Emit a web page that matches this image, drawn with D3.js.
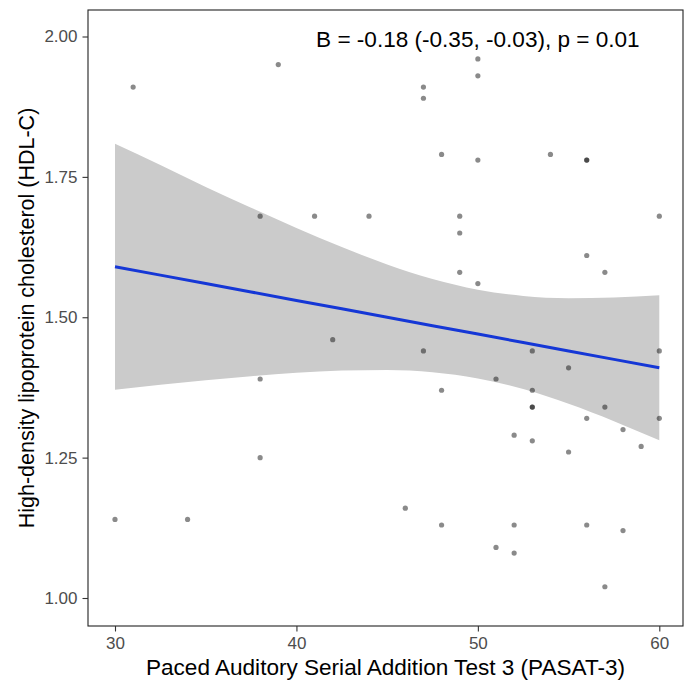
<!DOCTYPE html>
<html>
<head>
<meta charset="utf-8">
<script src="https://cdn.jsdelivr.net/npm/d3@7"></script>
<style>
  html, body { margin: 0; padding: 0; background: #fff; }
  svg { display: block; font-family: "Liberation Sans", Arial, sans-serif; }
</style>
</head>
<body>
<svg id="chart" width="690" height="682"></svg>
<script>
// PASAT-3 score for each participant
const pasat = [
  31, 39, 38, 41, 44,
  50, 50, 47, 47, 48, 50, 54, 56, 56, 49, 49, 60, 56, 57, 49, 50,
  42, 38, 38, 30, 34,
  47, 53, 60, 55, 51, 48, 53, 53, 53, 57, 56, 60, 58, 52, 53, 59, 55,
  46, 48, 52, 56, 58, 51, 52, 57
];
// HDL-C (mmol/L) for each participant
const hdl = [
  1.91, 1.95, 1.68, 1.68, 1.68,
  1.96, 1.93, 1.91, 1.89, 1.79, 1.78, 1.79, 1.78, 1.78, 1.68, 1.65, 1.68, 1.61, 1.58, 1.58, 1.56,
  1.46, 1.39, 1.25, 1.14, 1.14,
  1.44, 1.44, 1.44, 1.41, 1.39, 1.37, 1.37, 1.34, 1.34, 1.34, 1.32, 1.32, 1.30, 1.29, 1.28, 1.27, 1.26,
  1.16, 1.13, 1.13, 1.13, 1.12, 1.09, 1.08, 1.02
];

// Linear fit with its 95% confidence band
const fitX   = [30, 32.5, 35, 37.5, 40, 42.5, 45, 47.5, 50, 52.5, 55, 57.5, 60];
const fitY   = [1.590, 1.575, 1.560, 1.545, 1.530, 1.515, 1.500, 1.485, 1.470, 1.455, 1.440, 1.425, 1.410];
const ciLow  = [1.371, 1.380, 1.388, 1.395, 1.401, 1.405, 1.406, 1.402, 1.391, 1.372, 1.346, 1.315, 1.281];
const ciHigh = [1.809, 1.771, 1.732, 1.695, 1.659, 1.625, 1.594, 1.568, 1.549, 1.538, 1.534, 1.535, 1.539];

const xTicks = [30, 40, 50, 60];
const yTicks = [1.00, 1.25, 1.50, 1.75, 2.00];

const annotation = "B = -0.18 (-0.35, -0.03), p = 0.01";
const xTitle = "Paced Auditory Serial Addition Test 3 (PASAT-3)";
const yTitle = "High-density lipoprotein cholesterol (HDL-C)";

const panel = { left: 88, right: 683, top: 10, bottom: 626 };

const svg = d3.select("#chart");

const x = d3.scaleLinear().domain([30, 60]).range([115, 659.3]);
const y = d3.scaleLinear().domain([1, 2]).range([598, 36.5]);

const band = fitX.map((v, i) => ({ x: v, lo: ciLow[i], hi: ciHigh[i], f: fitY[i] }));

// confidence ribbon
svg.append("path")
  .datum(band)
  .attr("fill", "#cbcbcb")
  .attr("d", d3.area().curve(d3.curveMonotoneX)
    .x(d => x(d.x)).y0(d => y(d.lo)).y1(d => y(d.hi)));

// participants
svg.append("g")
  .selectAll("circle")
  .data(pasat.map((v, i) => ({ x: v, y: hdl[i] })))
  .join("circle")
  .attr("cx", d => x(d.x))
  .attr("cy", d => y(d.y))
  .attr("r", 2.6)
  .attr("fill", "#000")
  .attr("fill-opacity", 0.46);

// regression line
svg.append("path")
  .datum(band)
  .attr("fill", "none")
  .attr("stroke", "#1537d6")
  .attr("stroke-width", 3)
  .attr("d", d3.line().x(d => x(d.x)).y(d => y(d.f)));

// panel border
svg.append("rect")
  .attr("x", panel.left).attr("y", panel.top)
  .attr("width", panel.right - panel.left)
  .attr("height", panel.bottom - panel.top)
  .attr("fill", "none")
  .attr("stroke", "#222")
  .attr("stroke-width", 1.1);

// axes
const xAxis = svg.append("g")
  .attr("transform", `translate(0,${panel.bottom})`)
  .call(d3.axisBottom(x).tickValues(xTicks).tickSize(5.5).tickPadding(5).tickFormat(d3.format("d")));
const yAxis = svg.append("g")
  .attr("transform", `translate(${panel.left},0)`)
  .call(d3.axisLeft(y).tickValues(yTicks).tickSize(5.5).tickPadding(5).tickFormat(d3.format(".2f")));

[xAxis, yAxis].forEach(g => {
  g.select(".domain").remove();
  g.selectAll(".tick line").attr("stroke", "#333").attr("stroke-width", 1.1);
  g.selectAll(".tick text")
    .attr("fill", "#4d4d4d")
    .attr("font-size", 17)
    .attr("font-family", "'Liberation Sans', Arial, sans-serif");
});

// annotation
svg.append("text")
  .attr("transform", `translate(${x(50)},${y(2.0) + 10}) scale(1.05,1)`)
  .attr("text-anchor", "middle")
  .attr("font-size", 21.5)
  .attr("fill", "#000")
  .text(annotation);

// axis titles
svg.append("text")
  .attr("transform", `translate(${(panel.left + panel.right) / 2},675) scale(1.05,1)`)
  .attr("text-anchor", "middle")
  .attr("font-size", 21.5)
  .attr("fill", "#000")
  .text(xTitle);

svg.append("text")
  .attr("transform", `translate(34,${(panel.top + panel.bottom) / 2}) rotate(-90)`)
  .attr("text-anchor", "middle")
  .attr("font-size", 21.5)
  .attr("fill", "#000")
  .text(yTitle);
</script>
</body>
</html>
